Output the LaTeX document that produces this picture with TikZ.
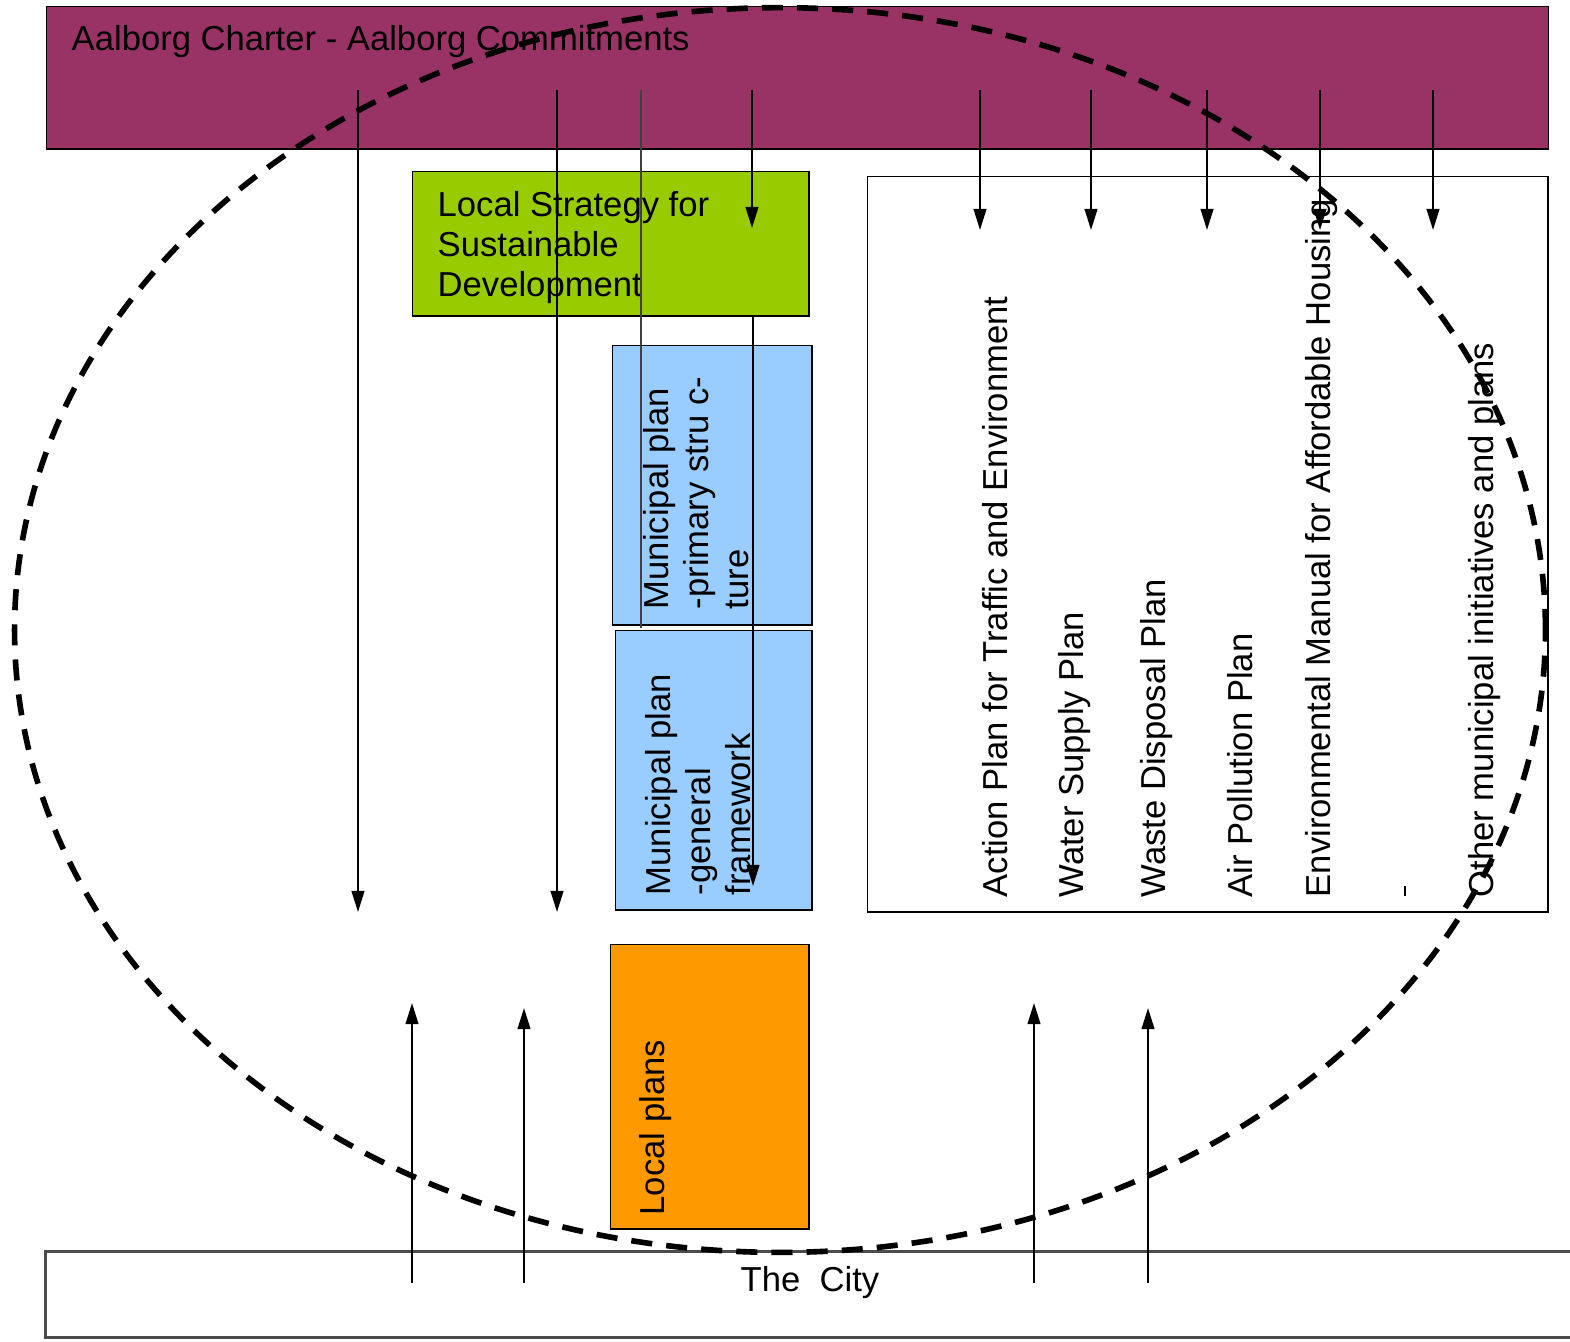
\documentclass[tikz,border=0pt]{standalone}
\usepackage{fontspec}
\setmainfont{Liberation Sans}
\usetikzlibrary{arrows.meta}

\definecolor{charter}{HTML}{993366}
\definecolor{strategy}{HTML}{99CC00}
\definecolor{municipal}{HTML}{99CCFF}
\definecolor{localplan}{HTML}{FF9900}

\begin{document}
\begin{tikzpicture}[x=0.01cm, y=-0.01cm,
  box/.style={draw, inner sep=0pt, anchor=north west},
  lbl/.style={font=\fontsize{9.85}{11.3}\selectfont, inner sep=0pt},
  side/.style={lbl, rotate=90, anchor=west},
  arr/.style={-{Triangle[length=6pt,width=3.6pt]}, line width=0.6pt},
  ring/.style={dash pattern=on 6pt off 4pt, line width=1.6pt}]
\useasboundingbox (0,0) rectangle (1570,1341);

% Boxes
\node[box, fill=charter, minimum width=15.01cm, minimum height=1.42cm] (charter) at (46,6) {};
\node[box, fill=strategy, minimum width=3.96cm, minimum height=1.44cm] (strategy) at (412,171) {};
\node[box, fill=municipal, minimum width=1.99cm, minimum height=2.79cm] (primary) at (612,345) {};
\node[box, fill=municipal, minimum width=1.96cm, minimum height=2.79cm] (general) at (615,630) {};
\node[box, fill=localplan, minimum width=1.98cm, minimum height=2.84cm] (local) at (610,944) {};
\node[box, minimum width=6.80cm, minimum height=7.35cm] (sector) at (867,176) {};
\node[box, draw=black!70, line width=0.9pt, fill=white, minimum width=15.56cm, minimum height=0.86cm] (city) at (44,1250) {};

% Texts
\node[lbl, anchor=base west] (chartertxt) at (71,50) {Aalborg Charter - Aalborg Commitments};
\node[lbl, anchor=north west, align=left] (strategytxt) at (437,191) {Local Strategy for\\Sustainable\\Development};
\node[lbl, rotate=90, anchor=north west, align=left] (primarytxt) at (643,610) {Municipal plan\\-primary stru c-\\ture};
\node[lbl, rotate=90, anchor=north west, align=left] (generaltxt) at (645,896) {Municipal plan\\-general\\framework};
\node[side] (localtxt) at (656,1216) {Local plans};
\node[lbl] (citytxt) at (810,1283) {The\ \ City};

\node[side] (traffic) at (995,898) {Action Plan for Traffic and Environment};
\node[side] (water) at (1075,898) {Water Supply Plan};
\node[side] (waste) at (1157,898) {Waste Disposal Plan};
\node[side] (air) at (1240,898) {Air Pollution Plan};
\node[side] (housing) at (1322,898) {Environmental Manual for Affordable Housing};
\node[side] (other) at (1485,898) {Other municipal initiatives and plans};

% Links from the charter
\foreach \x/\y/\n in {358/912/a, 557/912/b, 980/230/c, 1091/230/d, 1207/230/e, 1320/230/f, 1433/230/g, 752/228/h} {
  \coordinate (from\n) at (\x,90);
  \coordinate (to\n) at (\x,\y);
  \draw[arr] (from\n) -- (to\n);
}
\coordinate (fromi) at (641,90);
\coordinate (toi) at (641,628);
\draw[line width=0.6pt, black!75] (fromi) -- (toi);
\coordinate (fromj) at (753,315);
\coordinate (toj) at (753,886);
\draw[arr] (fromj) -- (toj);
\draw[line width=0.8pt] (1405,886) -- (1405,896);

% Links from the city
\foreach \x/\y/\n in {412/1003/a, 524/1008/b, 1034/1003/c, 1148/1008/d} {
  \coordinate (base\n) at (\x,1283);
  \coordinate (tip\n) at (\x,\y);
  \draw[arr] (base\n) -- (tip\n);
}

% Dashed ring
\draw[ring] (780,630) ellipse [x radius=7.65cm, y radius=6.22cm];
\end{tikzpicture}
\end{document}
